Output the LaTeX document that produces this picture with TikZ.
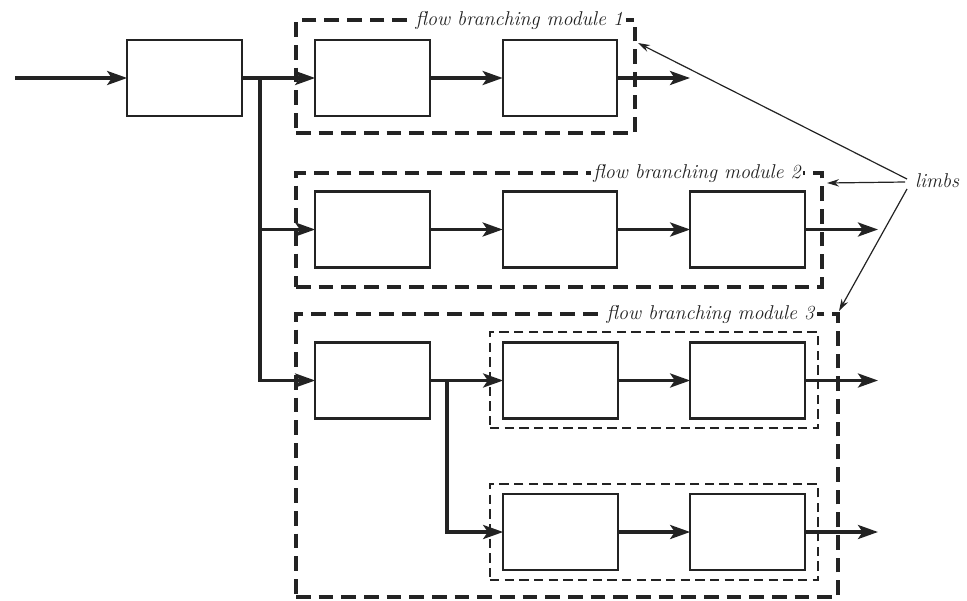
\documentclass[tikz,border=0pt]{standalone}
\usetikzlibrary{arrows.meta}
\definecolor{ink}{RGB}{35,35,35}
\begin{document}
\begin{tikzpicture}[x=0.75pt,y=-0.75pt,
  every node/.style={inner sep=0pt,outer sep=0pt},
  blk/.style={draw=ink,line width=1.7pt,minimum width=86pt,minimum height=57pt},
  module/.style={draw=ink,line width=2.3pt,dash pattern=on 11pt off 6pt},
  group/.style={draw=ink,line width=1.3pt,dash pattern=on 7pt off 4pt},
  flow/.style={draw=ink,line width=2.5pt,-{Stealth[length=15pt,width=10.5pt,inset=3.5pt]}},
  trunk/.style={draw=ink,line width=2.5pt},
  tag/.style={font=\fontsize{15}{18}\selectfont\itshape,text=ink,fill=white,inner sep=2pt},
  pointer/.style={draw=ink,line width=0.9pt,-{Stealth[length=9pt,width=5.5pt]}}]
\useasboundingbox (0,0) rectangle (967,600);

% dashed module frames
\node[module,minimum width=254.25pt,minimum height=84.75pt] (m1) at (465.5,76.5) {};
\node[module,minimum width=394.5pt,minimum height=85.5pt] (m2) at (559,230) {};
\node[module,minimum width=406.5pt,minimum height=212.25pt] (m3) at (567,455.5) {};
\node[group,minimum width=246pt,minimum height=72pt] (g1) at (654,380) {};
\node[group,minimum width=246pt,minimum height=72pt] (g2) at (654,532) {};

% module titles on the frame edges
\node[tag,anchor=east] (t1) at ([xshift=-7pt]m1.north east) {flow branching module 1};
\node[tag,anchor=east] (t2) at ([xshift=-14pt]m2.north east) {flow branching module 2};
\node[tag,anchor=east] (t3) at ([xshift=-16pt]m3.north east) {flow branching module 3};

% processing blocks
\node[blk] (A)   at (184.5,78) {};
\node[blk] (b11) at (372.5,78) {};
\node[blk] (b12) at (560,78) {};
\node[blk] (b21) at (372.5,229.5) {};
\node[blk] (b22) at (560,229.5) {};
\node[blk] (b23) at (747.5,229.5) {};
\node[blk] (b31) at (372.5,380.5) {};
\node[blk] (b32) at (560.5,380.5) {};
\node[blk] (b33) at (747.5,380.5) {};
\node[blk] (b34) at (560.5,532) {};
\node[blk] (b35) at (747.5,532) {};

% branch points and free ends
\coordinate (in)  at (15,78);
\coordinate (j1)  at (260,78);
\coordinate (j2)  at (447,380.5);
\coordinate (o1)  at (690,78);
\coordinate (o2)  at (878,229.5);
\coordinate (o3)  at (878,380.5);
\coordinate (o4)  at (878,532);

% flow connections
\draw[flow] (in) -- (A);
\draw[flow] (A) -- (b11);
\draw[flow] (b11) -- (b12);
\draw[flow] (b12) -- (o1);
\draw[trunk] (j1) -- ([yshift=-1.25pt]j1 |- b31.west);
\draw[flow] (j1) |- (b21.west);
\draw[flow] (j1) |- (b31.west);
\draw[flow] (b21) -- (b22);
\draw[flow] (b22) -- (b23);
\draw[flow] (b23) -- (o2);
\draw[flow] (b31) -- (b32);
\draw[flow] (j2) |- (b34.west);
\draw[flow] (b32) -- (b33);
\draw[flow] (b33) -- (o3);
\draw[flow] (b34) -- (b35);
\draw[flow] (b35) -- (o4);

% limbs annotation
\node[font=\fontsize{15}{18}\selectfont\itshape,text=ink,anchor=west] (limbs) at (915,181) {limbs};
\draw[pointer] ([shift={(-8,-2)}]limbs.west) -- ([shift={(3,23)}]m1.north east);
\draw[pointer] ([shift={(-10,1)}]limbs.west) -- ([shift={(5,10)}]m2.north east);
\draw[pointer] ([shift={(-8,8)}]limbs.west) -- ([shift={(1,-3)}]m3.north east);
\end{tikzpicture}
\end{document}
